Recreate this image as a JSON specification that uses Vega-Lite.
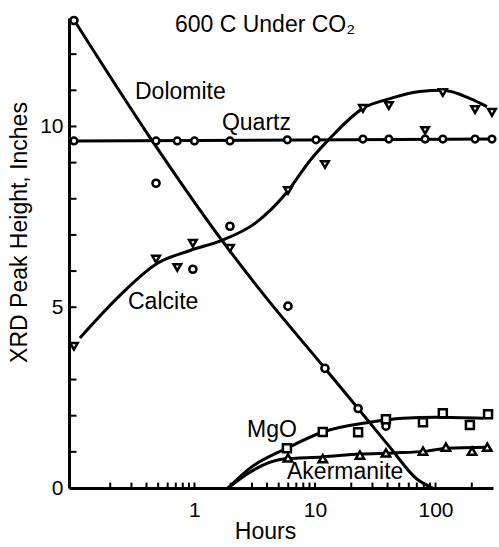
{
  "$schema": "https://vega.github.io/schema/vega-lite/v6.json",
  "width": 424,
  "height": 470,
  "autosize": {"type": "none"},
  "padding": {"left": 69, "top": 18, "right": 6, "bottom": 59},
  "background": "white",
  "config": {
    "view": {"stroke": null},
    "font": "Liberation Sans",
    "axis": {
      "domainColor": "black", "tickColor": "black", "labelColor": "black", "titleColor": "black",
      "grid": false, "labelFont": "Liberation Sans", "titleFont": "Liberation Sans",
      "titleFontWeight": "normal", "domainWidth": 3, "tickWidth": 2, "tickOpacity": 1
    }
  },
  "datasets": {
    "curves": [
      {"series": "Dolomite", "hours": 0.1, "value": 12.95},
      {"series": "Dolomite", "hours": 0.427, "value": 9.7},
      {"series": "Dolomite", "hours": 1.69, "value": 6.85},
      {"series": "Dolomite", "hours": 3.63, "value": 5.41},
      {"series": "Dolomite", "hours": 12.1, "value": 3.31},
      {"series": "Dolomite", "hours": 22.8, "value": 2.2},
      {"series": "Dolomite", "hours": 41.8, "value": 1.13},
      {"series": "Dolomite", "hours": 70, "value": 0.25},
      {"series": "Dolomite", "hours": 95, "value": 0},
      {"series": "Calcite", "hours": 0.112, "value": 4.15},
      {"series": "Calcite", "hours": 0.241, "value": 5.33},
      {"series": "Calcite", "hours": 0.489, "value": 6.21},
      {"series": "Calcite", "hours": 0.918, "value": 6.57},
      {"series": "Calcite", "hours": 1.69, "value": 6.85},
      {"series": "Calcite", "hours": 3.18, "value": 7.32},
      {"series": "Calcite", "hours": 5.85, "value": 8.18},
      {"series": "Calcite", "hours": 9.1, "value": 9.06},
      {"series": "Calcite", "hours": 13.3, "value": 9.67},
      {"series": "Calcite", "hours": 25, "value": 10.5},
      {"series": "Calcite", "hours": 41.8, "value": 10.77},
      {"series": "Calcite", "hours": 74, "value": 10.97},
      {"series": "Calcite", "hours": 115, "value": 11.0},
      {"series": "Calcite", "hours": 194, "value": 10.77},
      {"series": "Calcite", "hours": 267, "value": 10.55},
      {"series": "Quartz", "hours": 0.1, "value": 9.6},
      {"series": "Quartz", "hours": 294, "value": 9.65},
      {"series": "MgO", "hours": 1.9, "value": 0},
      {"series": "MgO", "hours": 2.89, "value": 0.55},
      {"series": "MgO", "hours": 5.85, "value": 1.1},
      {"series": "MgO", "hours": 11.6, "value": 1.55},
      {"series": "MgO", "hours": 28.5, "value": 1.82},
      {"series": "MgO", "hours": 53.5, "value": 1.93},
      {"series": "MgO", "hours": 102, "value": 1.96},
      {"series": "MgO", "hours": 248, "value": 1.93},
      {"series": "Akermanite", "hours": 1.9, "value": 0},
      {"series": "Akermanite", "hours": 2.89, "value": 0.44},
      {"series": "Akermanite", "hours": 5.42, "value": 0.8},
      {"series": "Akermanite", "hours": 11.6, "value": 0.86},
      {"series": "Akermanite", "hours": 23.6, "value": 0.94},
      {"series": "Akermanite", "hours": 44.3, "value": 0.97},
      {"series": "Akermanite", "hours": 84.9, "value": 1.02},
      {"series": "Akermanite", "hours": 124, "value": 1.1},
      {"series": "Akermanite", "hours": 269, "value": 1.13}
    ],
    "points": [
      {"series": "Quartz", "hours": 0.1, "value": 9.6},
      {"series": "Quartz", "hours": 0.48, "value": 9.6},
      {"series": "Quartz", "hours": 0.72, "value": 9.6},
      {"series": "Quartz", "hours": 1.0, "value": 9.6},
      {"series": "Quartz", "hours": 1.97, "value": 9.6},
      {"series": "Quartz", "hours": 5.9, "value": 9.63},
      {"series": "Quartz", "hours": 10.2, "value": 9.63},
      {"series": "Quartz", "hours": 25, "value": 9.65},
      {"series": "Quartz", "hours": 41, "value": 9.65},
      {"series": "Quartz", "hours": 82, "value": 9.65},
      {"series": "Quartz", "hours": 115, "value": 9.65},
      {"series": "Quartz", "hours": 213, "value": 9.65},
      {"series": "Quartz", "hours": 294, "value": 9.65},
      {"series": "Dolomite", "hours": 0.1, "value": 12.93},
      {"series": "Dolomite", "hours": 0.48, "value": 8.43},
      {"series": "Dolomite", "hours": 0.97, "value": 6.05},
      {"series": "Dolomite", "hours": 1.97, "value": 7.24},
      {"series": "Dolomite", "hours": 5.97, "value": 5.03},
      {"series": "Dolomite", "hours": 12.1, "value": 3.31},
      {"series": "Dolomite", "hours": 22.8, "value": 2.2},
      {"series": "Dolomite", "hours": 38.8, "value": 1.71},
      {"series": "Calcite", "hours": 0.1, "value": 3.92},
      {"series": "Calcite", "hours": 0.48, "value": 6.33},
      {"series": "Calcite", "hours": 0.72, "value": 6.1},
      {"series": "Calcite", "hours": 0.97, "value": 6.77},
      {"series": "Calcite", "hours": 1.97, "value": 6.63},
      {"series": "Calcite", "hours": 5.97, "value": 8.23},
      {"series": "Calcite", "hours": 12.1, "value": 8.95},
      {"series": "Calcite", "hours": 25, "value": 10.5},
      {"series": "Calcite", "hours": 41, "value": 10.58},
      {"series": "Calcite", "hours": 82, "value": 9.89},
      {"series": "Calcite", "hours": 115, "value": 10.94},
      {"series": "Calcite", "hours": 213, "value": 10.47},
      {"series": "Calcite", "hours": 294, "value": 10.39},
      {"series": "MgO", "hours": 5.85, "value": 1.1},
      {"series": "MgO", "hours": 11.6, "value": 1.55},
      {"series": "MgO", "hours": 22.8, "value": 1.54},
      {"series": "MgO", "hours": 38.8, "value": 1.9},
      {"series": "MgO", "hours": 78.7, "value": 1.82},
      {"series": "MgO", "hours": 115, "value": 2.07},
      {"series": "MgO", "hours": 193, "value": 1.74},
      {"series": "MgO", "hours": 273, "value": 2.04},
      {"series": "Akermanite", "hours": 5.97, "value": 0.83},
      {"series": "Akermanite", "hours": 11.6, "value": 0.81},
      {"series": "Akermanite", "hours": 23.6, "value": 0.91},
      {"series": "Akermanite", "hours": 38.8, "value": 0.97},
      {"series": "Akermanite", "hours": 78.7, "value": 1.02},
      {"series": "Akermanite", "hours": 122, "value": 1.13},
      {"series": "Akermanite", "hours": 201, "value": 1.02},
      {"series": "Akermanite", "hours": 269, "value": 1.13}
    ],
    "labels": [
      {"text": "600  C Under CO₂", "hours": 0.689, "value": 12.6},
      {"text": "Dolomite", "hours": 0.321, "value": 10.77},
      {"text": "Quartz", "hours": 1.69, "value": 9.89},
      {"text": "Calcite", "hours": 0.281, "value": 4.94},
      {"text": "MgO", "hours": 2.73, "value": 1.41},
      {"text": "Akermanite", "hours": 5.86, "value": 0.25}
    ],
    "xticks": [
      {"hours": 0.2}, {"hours": 0.3}, {"hours": 0.4}, {"hours": 0.5}, {"hours": 0.6}, {"hours": 0.7}, {"hours": 0.8}, {"hours": 0.9},
      {"hours": 1}, {"hours": 2}, {"hours": 3}, {"hours": 4}, {"hours": 5}, {"hours": 6}, {"hours": 7}, {"hours": 8}, {"hours": 9},
      {"hours": 10}, {"hours": 20}, {"hours": 30}, {"hours": 40}, {"hours": 50}, {"hours": 60}, {"hours": 70}, {"hours": 80}, {"hours": 90},
      {"hours": 100}, {"hours": 200}
    ],
    "yticks": [
      {"value": 1}, {"value": 2}, {"value": 3}, {"value": 4}, {"value": 5}, {"value": 6}, {"value": 7},
      {"value": 8}, {"value": 9}, {"value": 10}, {"value": 11}, {"value": 12}
    ]
  },
  "resolve": {"axis": {"x": "independent", "y": "independent"}},
  "layer": [
    {
      "data": {"name": "curves"},
      "mark": {"type": "line", "color": "black", "strokeWidth": 3, "interpolate": "monotone"},
      "encoding": {
        "x": {
          "field": "hours", "type": "quantitative",
          "scale": {"type": "log", "domain": [0.091, 300], "nice": false},
          "axis": {
            "orient": "bottom",
            "title": "Hours", "titleFontSize": 23, "titlePadding": 0, "titleX": 196,
            "values": [1, 10, 100],
            "labelExpr": "datum.value == 1 ? '1' : datum.value == 10 ? '10' : datum.value == 100 ? '100' : ''",
            "labelFontSize": 21, "ticks": false, "tickSize": 0, "labelPadding": 11,
            "labelOverlap": false, "labelFlush": false, "labelBound": false
          }
        },
        "y": {
          "field": "value", "type": "quantitative",
          "scale": {"domain": [0, 13], "nice": false, "zero": true},
          "axis": {
            "orient": "left",
            "title": "XRD Peak Height, Inches", "titleFontSize": 23, "titlePadding": 8,
            "titleAnchor": "middle", "titleY": 214,
            "values": [0, 5, 10],
            "labelFontSize": 21, "ticks": false, "tickSize": 0, "labelPadding": 6,
            "labelOverlap": false, "labelFlush": false, "labelBound": false
          }
        },
        "detail": {"field": "series"}
      }
    },
    {
      "data": {"name": "xticks"},
      "mark": {"type": "rule", "color": "black", "strokeWidth": 2},
      "encoding": {
        "x": {"field": "hours", "type": "quantitative", "scale": {"type": "log", "domain": [0.091, 300], "nice": false}, "axis": null},
        "y": {"datum": 0, "type": "quantitative", "scale": {"domain": [0, 13], "nice": false, "zero": true}, "axis": null},
        "y2": {"datum": 0.15}
      }
    },
    {
      "data": {"name": "yticks"},
      "mark": {"type": "rule", "color": "black", "strokeWidth": 2},
      "encoding": {
        "y": {"field": "value", "type": "quantitative", "scale": {"domain": [0, 13], "nice": false, "zero": true}, "axis": null},
        "x": {"datum": 0.091, "type": "quantitative", "scale": {"type": "log", "domain": [0.091, 300], "nice": false}, "axis": null},
        "x2": {"datum": 0.105}
      }
    },
    {
      "data": {"name": "points"},
      "mark": {"type": "point", "filled": false, "fill": "white", "fillOpacity": 1, "stroke": "black", "strokeWidth": 2.5, "opacity": 1},
      "encoding": {
        "x": {"field": "hours", "type": "quantitative", "scale": {"type": "log", "domain": [0.091, 300], "nice": false}, "axis": null},
        "y": {"field": "value", "type": "quantitative", "scale": {"domain": [0, 13], "nice": false, "zero": true}, "axis": null},
        "shape": {
          "field": "series", "type": "nominal", "legend": null,
          "scale": {"domain": ["Quartz", "Dolomite", "Calcite", "MgO", "Akermanite"],
                    "range": ["circle", "circle", "triangle-down", "square", "triangle-up"]}
        },
        "size": {
          "field": "series", "type": "nominal", "legend": null,
          "scale": {"domain": ["Quartz", "Dolomite", "Calcite", "MgO", "Akermanite"],
                    "range": [45, 70, 60, 55, 55]}
        }
      }
    },
    {
      "data": {"name": "labels"},
      "mark": {"type": "text", "align": "left", "baseline": "alphabetic", "fontSize": 23, "font": "Liberation Sans", "color": "black"},
      "encoding": {
        "x": {"field": "hours", "type": "quantitative", "scale": {"type": "log", "domain": [0.091, 300], "nice": false}, "axis": null},
        "y": {"field": "value", "type": "quantitative", "scale": {"domain": [0, 13], "nice": false, "zero": true}, "axis": null},
        "text": {"field": "text"}
      }
    }
  ]
}
